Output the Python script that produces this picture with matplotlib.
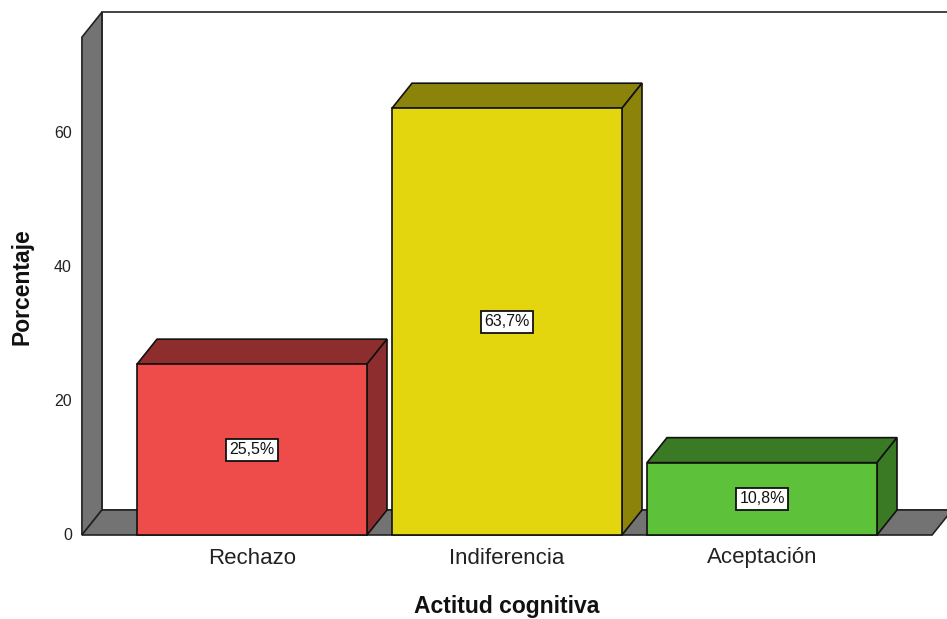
import matplotlib
matplotlib.use("Agg")
import matplotlib.pyplot as plt
from matplotlib.patches import Polygon

plt.rcParams['font.family'] = ['Liberation Sans', 'DejaVu Sans']

categorias = ["Rechazo", "Indiferencia", "Aceptación"]
porcentajes = [25.5, 63.7, 10.8]
etiquetas = ["25,5%", "63,7%", "10,8%"]
ticks_y = [0, 20, 40, 60]

frente = ["#EE4B4B", "#E3D60F", "#5DC13A"]
sombra = ["#8E2D2D", "#8B830A", "#3A7A25"]

# escala: 255 px por categoría, 6.7 px por punto porcentual
W, H, DPI = 947, 619, 100
PX_CAT = 255.0
PX_PCT = 6.7
x_cero, y_cero = 252.0, 535.0  # centro de la primera barra / línea base

dx = 20 / PX_CAT    # profundidad horizontal
dy = 25 / PX_PCT    # profundidad vertical
ancho = 230 / PX_CAT
x_izq = -0.667      # borde frontal del muro izquierdo
x_der = 2.667       # borde frontal derecho del piso
techo = 74.3

fig = plt.figure(figsize=(W / DPI, H / DPI), dpi=DPI)
ax = fig.add_axes([0, 0, 1, 1])
ax.set_xlim(-x_cero / PX_CAT, (W - x_cero) / PX_CAT)
ax.set_ylim(-(H - y_cero) / PX_PCT, y_cero / PX_PCT)
ax.axis("off")

lw = 1.2
# pared del fondo
ax.add_patch(Polygon([(x_izq + dx, dy), (x_der + dx, dy), (x_der + dx, techo + dy),
                      (x_izq + dx, techo + dy)], closed=True, fc="white", ec="#222222", lw=lw))
# pared izquierda
ax.add_patch(Polygon([(x_izq, 0), (x_izq + dx, dy), (x_izq + dx, techo + dy), (x_izq, techo)],
                     closed=True, fc="#737373", ec="#222222", lw=lw))
# piso
ax.add_patch(Polygon([(x_izq, 0), (x_der, 0), (x_der + dx, dy), (x_izq + dx, dy)],
                     closed=True, fc="#737373", ec="#222222", lw=lw))

for i, (v, lab) in enumerate(zip(porcentajes, etiquetas)):
    x0, x1 = i - ancho / 2, i + ancho / 2
    ax.add_patch(Polygon([(x0, v), (x1, v), (x1 + dx, v + dy), (x0 + dx, v + dy)],
                         closed=True, fc=sombra[i], ec="#111111", lw=lw))
    ax.add_patch(Polygon([(x1, 0), (x1 + dx, dy), (x1 + dx, v + dy), (x1, v)],
                         closed=True, fc=sombra[i], ec="#111111", lw=lw))
    ax.add_patch(Polygon([(x0, 0), (x1, 0), (x1, v), (x0, v)],
                         closed=True, fc=frente[i], ec="#111111", lw=lw))
    ax.text(i, v / 2, lab, ha="center", va="center", fontsize=11.5, color="#111111",
            bbox=dict(boxstyle="square,pad=0.22", fc="white", ec="#111111", lw=1.3))
    ax.text(i, -23 / PX_PCT, categorias[i], ha="center", va="center", fontsize=16,
            color="#222222")

for t in ticks_y:
    ax.text(x_izq - 10 / PX_CAT, t, str(t), ha="right", va="center", fontsize=11.5,
            color="#222222")

fig.text(22 / W, 1 - 287 / H, "Porcentaje", rotation=90, ha="center", va="center",
         fontsize=16.5, fontweight="bold", color="#111111")
fig.text(507 / W, 1 - 606 / H, "Actitud cognitiva", ha="center", va="center",
         fontsize=16.5, fontweight="bold", color="#111111")

fig.savefig("out.png", dpi=DPI)
